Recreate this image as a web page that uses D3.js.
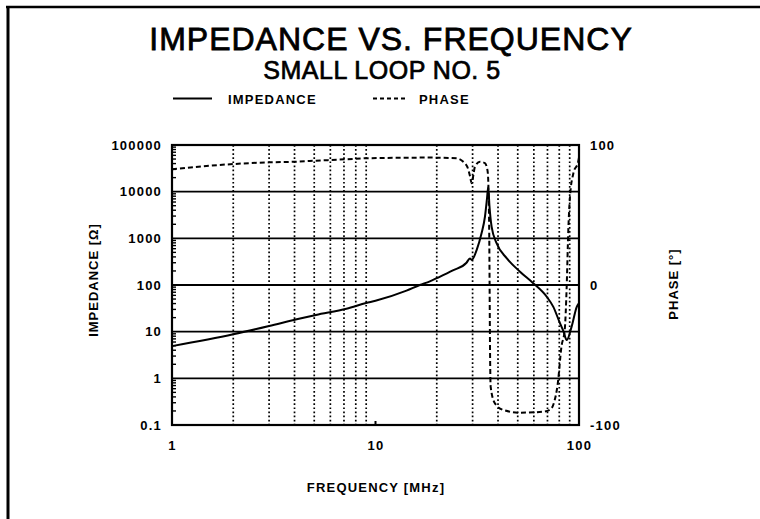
<!DOCTYPE html>
<html><head><meta charset="utf-8">
<script src="https://cdn.jsdelivr.net/npm/d3@7"></script>
<style>
html,body{margin:0;padding:0;background:#fff;}
text{font-family:"Liberation Sans",Arial,Helvetica,sans-serif;fill:#000;}
</style></head>
<body>
<svg id="c" width="760" height="519"></svg>
<script>
// ---- data ----
const impFreq = [1,2,3,4.1,5.1,7.2,9,10,14.2,16.5,18.5,20,24,28,29.1,29.7,31.4,33.2,34.5,35.3,35.8,36.3,37.2,39.4,44.2,51.3,59.6,69.4,74.8,80.7,84,87,92,97.5,100];
const impedance = [4.9,8.8,13.2,18.4,22.8,31,41,46,76,100,120,140,205,300,370,345,560,1280,2900,7000,12600,5000,1780,780,373,193,109,56,34,15,10,6.6,12.8,34,41];
const phaseFreq = [1,2,3,4.1,5.1,7.2,9,18.5,25,27,28.5,29.1,29.7,30.3,30.8,32.6,34.5,35.5,35.8,36.2,36.6,36.8,38.6,42.5,51.3,66.8,72,75,78.7,82,85.1,87,88.6,90.3,93.9,99.1,100];
const phase = [82.6,86.4,87.6,88.1,88.8,89.8,90.5,91,90.5,88,83,78,72.6,79,84.5,88,87,82,75,39,-56,-72.6,-84.5,-89.3,-91.2,-90.5,-89,-85,-70,-44,-32,-1,39,63,80,88,91];
const impTicks = [0.1,1,10,100,1000,10000,100000];
const impTickLabels = ["0.1","1","10","100","1000","10000","100000"];
const phaseTicks = [-100,0,100];
const phaseTickLabels = ["-100","0","100"];
const freqTicks = [1,10,100];
const freqTickLabels = ["1","10","100"];
const minorMult = [2,3,4,5,6,7,8,9];

const svg = d3.select("#c");
const L=172, R=579, T=145, B=425;
const x = d3.scaleLog().domain([1,100]).range([L,R]);
const y = d3.scaleLog().domain([0.1,100000]).range([B,T]);
const yp = d3.scaleLinear().domain([-100,100]).range([B,T]);

// outer frame (top + left)
svg.append("line").attr("x1",6).attr("x2",760).attr("y1",7).attr("y2",7).attr("stroke","#000").attr("stroke-width",2.5);
svg.append("line").attr("x1",8).attr("x2",8).attr("y1",6).attr("y2",519).attr("stroke","#000").attr("stroke-width",3);

// titles
svg.append("text").attr("x",391).attr("y",50).attr("text-anchor","middle")
  .attr("stroke","#000").attr("stroke-width",0.8)
  .style("font-size","32px").style("letter-spacing","1px").text("IMPEDANCE VS. FREQUENCY");
svg.append("text").attr("x",382).attr("y",79).attr("text-anchor","middle")
  .attr("stroke","#000").attr("stroke-width",0.7)
  .style("font-size","25px").style("letter-spacing","0.5px").text("SMALL LOOP NO. 5");

// legend
svg.append("line").attr("x1",173).attr("x2",212).attr("y1",98.5).attr("y2",98.5).attr("stroke","#000").attr("stroke-width",2);
svg.append("text").attr("x",228).attr("y",103.5).style("font-size","13px").style("font-weight","bold").style("letter-spacing","1.2px").text("IMPEDANCE");
svg.append("line").attr("x1",373).attr("x2",407).attr("y1",98.5).attr("y2",98.5).attr("stroke","#000").attr("stroke-width",2).attr("stroke-dasharray","4,3");
svg.append("text").attr("x",419).attr("y",103.5).style("font-size","13px").style("font-weight","bold").style("letter-spacing","1.2px").text("PHASE");

// minor values
const minors = [];
[1,10].forEach(d=>minorMult.forEach(m=>minors.push(d*m)));
const yMinors = [];
[0.1,1,10,100,1000,10000].forEach(d=>minorMult.forEach(m=>yMinors.push(d*m)));

// dotted vertical grid
svg.append("g").selectAll("line").data(minors).join("line")
  .attr("x1",d=>x(d)).attr("x2",d=>x(d)).attr("y1",T).attr("y2",B)
  .attr("stroke","#000").attr("stroke-width",1.7).attr("stroke-dasharray","1.7,2.4");

// horizontal decade grid
svg.append("g").selectAll("line").data(impTicks.slice(1,-1)).join("line")
  .attr("x1",L).attr("x2",R).attr("y1",d=>y(d)).attr("y2",d=>y(d))
  .attr("stroke","#000").attr("stroke-width",1.8);

// left minor ticks
svg.append("g").selectAll("line").data(yMinors).join("line")
  .attr("x1",L).attr("x2",L+4).attr("y1",d=>y(d)).attr("y2",d=>y(d))
  .attr("stroke","#000").attr("stroke-width",1.4);
// bottom tick at 10
svg.append("line").attr("x1",x(10)).attr("x2",x(10)).attr("y1",B).attr("y2",B-4).attr("stroke","#000").attr("stroke-width",2);

// plot frame
svg.append("rect").attr("x",L).attr("y",T).attr("width",R-L).attr("height",B-T)
  .attr("fill","none").attr("stroke","#000").attr("stroke-width",2.2);

// axes labels
const tickStyle = g => g.selectAll("text").style("font-size","13px").style("font-weight","bold").style("letter-spacing","1.2px");
svg.append("g").attr("transform",`translate(${L},0)`)
  .call(d3.axisLeft(y).tickValues(impTicks).tickFormat((d,i)=>impTickLabels[i]).tickSize(0).tickPadding(10))
  .call(g=>g.select(".domain").remove()).call(tickStyle);
svg.append("g").attr("transform",`translate(${R},0)`)
  .call(d3.axisRight(yp).tickValues(phaseTicks).tickFormat((d,i)=>phaseTickLabels[i]).tickSize(0).tickPadding(11))
  .call(g=>g.select(".domain").remove()).call(tickStyle);
svg.append("g").attr("transform",`translate(0,${B})`)
  .call(d3.axisBottom(x).tickValues(freqTicks).tickFormat((d,i)=>freqTickLabels[i]).tickSize(0).tickPadding(16))
  .call(g=>g.select(".domain").remove()).call(tickStyle);

svg.append("text").attr("transform","translate(98,280) rotate(-90)").attr("text-anchor","middle")
  .style("font-size","13px").style("font-weight","bold").style("letter-spacing","1px").text("IMPEDANCE [Ω]");
svg.append("text").attr("transform","translate(678,284) rotate(-90)").attr("text-anchor","middle")
  .style("font-size","13px").style("font-weight","bold").style("letter-spacing","1px").text("PHASE [°]");
svg.append("text").attr("x",376).attr("y",492).attr("text-anchor","middle")
  .style("font-size","13px").style("font-weight","bold").style("letter-spacing","1.2px").text("FREQUENCY [MHz]");

// curves
const impData = impFreq.map((f,i)=>[f,impedance[i]]);
const phData = phaseFreq.map((f,i)=>[f,phase[i]]);
svg.append("path").datum(impData)
  .attr("d",d3.line().x(d=>x(d[0])).y(d=>y(d[1])).curve(d3.curveMonotoneX))
  .attr("fill","none").attr("stroke","#000").attr("stroke-width",2);
svg.append("path").datum(phData)
  .attr("d",d3.line().x(d=>x(d[0])).y(d=>yp(d[1])).curve(d3.curveMonotoneX))
  .attr("fill","none").attr("stroke","#000").attr("stroke-width",2).attr("stroke-dasharray","5,3");
</script>
</body></html>
